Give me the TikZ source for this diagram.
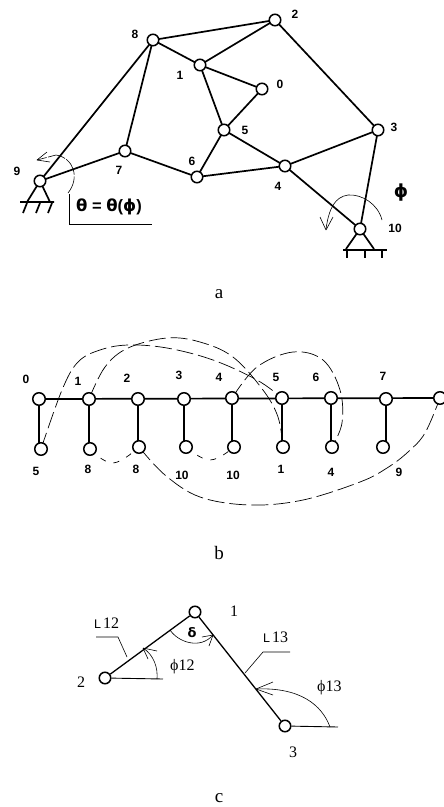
\documentclass[tikz,border=0pt]{standalone}
\usepackage{fontspec}
\setmainfont{Liberation Serif}
\newfontfamily\lab{Liberation Sans}
\newfontfamily\gk{DejaVu Sans}
\begin{document}
\begin{tikzpicture}[x=1pt,y=-1pt,
 jt/.style={circle,draw=black,line width=1.5pt,fill=white,inner sep=0pt,minimum size=11.5pt},
 link/.style={line width=1.7pt},
 clink/.style={line width=1.3pt},
 nlab/.style={font=\lab\bfseries\fontsize{12}{12}\selectfont,inner sep=0pt},
 capt/.style={font=\fontsize{19}{20}\selectfont,inner sep=0pt},
 dsh/.style={line width=0.7pt,dash pattern=on 17pt off 5pt},
 dshs/.style={line width=0.7pt,dash pattern=on 6pt off 8pt},
 ann/.style={line width=0.6pt},
 slab/.style={font=\fontsize{16}{18}\selectfont,inner sep=0pt}]
\useasboundingbox (0,0) rectangle (444,807);
% --- a ---
\foreach \n/\x/\y in {a0/262/89,a1/200/65,a2/275/20,a3/378/130,a4/285/166,a5/224/130,a6/197/177,a7/125/151,a8/153/40,a9/40/181,a10/360/229}
  \coordinate (\n) at (\x,\y);
\draw[link] (a8)--(a2) (a8)--(a1) (a1)--(a2) (a1)--(a0) (a1)--(a5) (a0)--(a5) (a2)--(a3) (a3)--(a4) (a3)--(a10)
 (a4)--(a5) (a4)--(a6) (a4)--(a10) (a5)--(a6) (a6)--(a7) (a7)--(a8) (a7)--(a9) (a8)--(a9);
% supports
\draw[link] (a9)--(27,202) (a9)--(50,202);
\draw[link] (20,202)--(54,202) (27,203)--(23,213) (40,203)--(36,213) (52,203)--(48,213);
\draw[link] (a10)--(346,249) (a10)--(374,249);
\draw[link] (343,250)--(387,250) (347,250)--(347,258) (365,250)--(365,258) (382,250)--(382,258);
\foreach \n in {a0,a1,a2,a3,a4,a5,a6,a7,a8,a9,a10} \node[jt] (n\n) at (\n) {};
\foreach \t/\x/\y in {8/135/34,2/295/14,1/180/75,0/280/84,5/245/130,3/394/127,6/192/161,4/278/186,7/119/170,9/17/171,10/395/228}
  \node[nlab] at (\x,\y) {\t};
% angle arcs
\draw[ann,dash pattern=on 18pt off 1.5pt] (68,193) .. controls (80,178) and (74,158) .. (56,155) -- (37,160);
\draw[ann] (37,160)--(47,152) (37,160)--(50,162);
\draw[ann] (382,220) .. controls (378,204) and (362,194) .. (348,195) .. controls (335,197) and (329,208) .. (326,229);
\draw[ann] (326,230)--(320,217) (326,230)--(333,217);
\draw[ann] (69,194)--(69,224)--(152,224);
\node[font=\lab\bfseries\fontsize{16.5}{17}\selectfont,inner sep=0pt,anchor=west] at (76,207) {{\gk θ} = {\gk θ}({\gk ϕ})};
\node[font=\gk\bfseries\fontsize{18}{18}\selectfont,inner sep=0pt] at (401,193) {ϕ};
\node[capt] at (219,294) {a};
% --- b ---
\foreach \n/\x/\y in {b0/39/399,b1/89/399,b2/138/399,b3/184/399,b4/232/398,b5/282/398,b6/331/398,b7/386/399,b8/440/398}
  \coordinate (\n) at (\x,\y);
\foreach \n/\x/\y in {c0/41/449,c1/90/449,c2/139/447,c3/186/447,c4/234/447,c5/283/447,c6/332/447,c7/383/447}
  \coordinate (\n) at (\x,\y);
\draw[link] (b0)--(b8);
\foreach \a/\b in {b0/c0,b1/c1,b2/c2,b3/c3,b4/c4,b5/c5,b6/c6,b7/c7} \draw[link] (\a)--(\a |- \b);
% dashed connecting curves (behind the joints)
\draw[dsh] plot[smooth,tension=0.6] coordinates {(c0) (62,390) (78,362) (100,350) (128,345) (167,348) (213,360) (257,380) (b5)};
\draw[dsh] plot[smooth,tension=0.6] coordinates {(b1) (105,367) (128,348) (167,338) (200,342) (233,357) (263,390) (278,417) (c5)};
\draw[dsh] plot[smooth,tension=0.6] coordinates {(b4) (257,367) (293,352) (323,360) (340,390) (342,423) (c6)};
\draw[dshs] plot[smooth,tension=0.7] coordinates {(c1) (113,463) (c2)};
\draw[dshs] plot[smooth,tension=0.7] coordinates {(c3) (210,460) (c4)};
\draw[dsh] plot[smooth,tension=0.6] coordinates {(c2) (165,475) (200,497) (250,505) (303,500) (360,482) (387,468) (408,452) (425,433) (b8)};
\foreach \n in {b0,b1,b2,b3,b4,b5,b6,b7,b8,c0,c1,c2,c3,c4,c5,c6,c7} \node[jt,minimum size=12.5pt] (n\n) at (\n) {};
\foreach \t/\x/\y in {0/26/379,1/78/381,2/127/378,3/179/375,4/219/377,5/276/377,6/316/377,7/383/376}
  \node[nlab] at (\x,\y) {\t};
\foreach \t/\x/\y in {5/36/471,8/88/469,8/136/469,10/182/475,10/233/475,1/281/469,4/331/472,9/399/472}
  \node[nlab] at (\x,\y) {\t};
\node[capt] at (219,553) {b};
% --- c ---
\node[jt] (j1) at (195,612) {};
\node[jt] (j2) at (105,678) {};
\node[jt] (j3) at (285,726) {};
\coordinate (e2) at (163,679);
\coordinate (e3) at (338,727);
\draw[clink] (j1)--(j2) (j1)--(j3);
\draw[ann,line width=0.9pt] (j2)--(e2);
\draw[ann,line width=0.9pt] (j3)--(e3);
\node[slab] at (81,682) {2};
\node[slab] at (234,611) {1};
\node[slab] at (293,752) {3};
\draw[ann] (96,637)--(118,637)--(127,657);
\draw[ann] (290,652)--(263,652)--(245,673);
\node[slab,anchor=west] at (94,623) {\lab\fontsize{12.5}{12}\selectfont L\,\fontsize{16}{18}\selectfont\rmfamily 12};
\node[slab,anchor=west] at (263,637) {\lab\fontsize{12.5}{12}\selectfont L\,\fontsize{16}{18}\selectfont\rmfamily 13};
\node[slab,anchor=west] at (170,667) {ϕ12};
\node[slab,anchor=west] at (317,688) {ϕ13};
\node[font=\gk\bfseries\fontsize{13}{13}\selectfont,inner sep=0pt] at (192,633) {δ};
\draw[ann] (157,679) .. controls (158,668) and (154,655) .. (143,648);
\draw[ann] (143,648)--(157,651) (143,648)--(148,659);
\draw[ann] (170,630) .. controls (178,642) and (200,650) .. (213,635);
\draw[ann] (213,635)--(202,637) (213,635)--(209,646);
\draw[ann] (330,727) .. controls (322,705) and (300,687) .. (256,689);
\draw[ann] (256,689)--(273,682) (256,689)--(273,695);
\node[capt] at (219,798) {c};
\end{tikzpicture}
\end{document}
